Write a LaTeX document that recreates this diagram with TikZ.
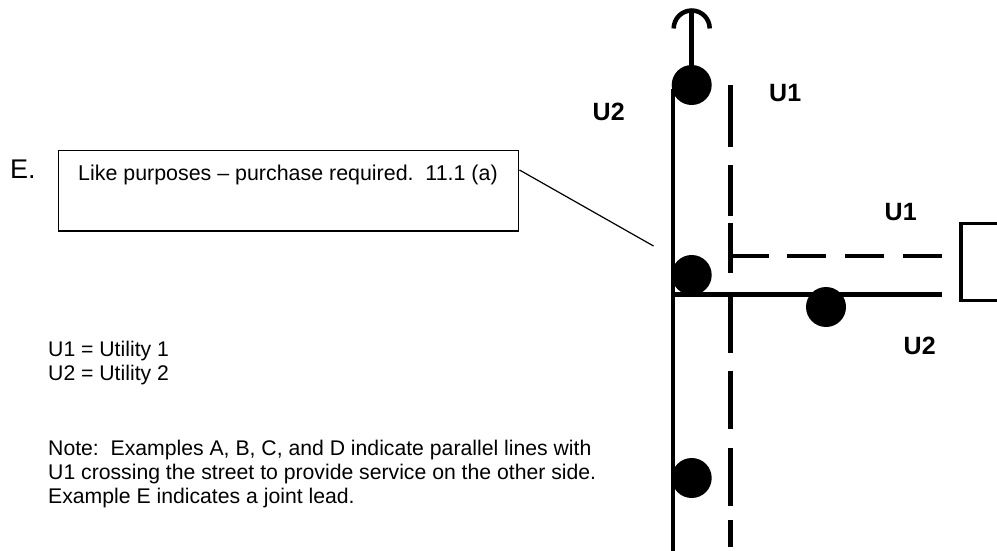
\documentclass[tikz,border=0pt]{standalone}
\usepackage{fontspec}
\setmainfont{Liberation Sans}
\tikzset{
  heavy/.style={line width=4.5pt,line cap=butt},
  dot/.style={circle,fill=black,draw=none,minimum size=40pt,inner sep=0pt},
  lbl/.style={inner sep=0pt,anchor=base west},
  utilbl/.style={lbl,font=\fontsize{25}{28}\selectfont\bfseries},
  txt/.style={lbl,font=\fontsize{21.2}{24}\selectfont},
}
\begin{document}
\begin{tikzpicture}[x=1pt,y=-1pt]
\useasboundingbox (0,0) rectangle (997,551);
% dashed U1
\coordinate (vdt) at (730.5,85);
\coordinate (vdb) at (730.5,547);
\coordinate (hds) at (733,256);
\coordinate (hde) at (942,256);
\draw[heavy,dash pattern=on 62pt off 18pt on 51pt off 7pt on 50pt off 21pt on 59pt off 18pt on 58pt off 19pt on 58pt off 14pt on 27pt] (vdt) -- (vdb);
\draw[heavy,dash pattern=on 36pt off 18pt on 39pt off 19pt on 39pt off 19pt on 39pt] (hds) -- (hde);
% solid U2
\coordinate (vst) at (673,89);
\coordinate (vsb) at (673,551);
\coordinate (hss) at (673,294.5);
\coordinate (hse) at (942,294.5);
\draw[line width=4pt] (vst) -- (vsb);
\draw[line width=5pt] (hss) -- (hse);
% dots
\node[dot] (d1) at (691.7,85) {};
\node[dot] (d2) at (691.7,275) {};
\node[dot] (d3) at (826,307) {};
\node[dot] (d4) at (691.7,478) {};
% pole
\coordinate (al) at (673.7,28.5);
\coordinate (atop) at (691.7,9);
\draw[heavy] (atop) -- (d1.center);
\draw[heavy] (al) arc[start angle=180,end angle=360,radius=18];
% house
\coordinate (hl) at (961,223.5);
\draw[line width=3.8pt] (1000,223.5) -- (hl) -- (961,300.5) -- (1000,300.5);
% callout
\node[draw,line width=1.3pt,minimum width=460.5pt,minimum height=80.5pt,inner sep=0pt,anchor=north west] (box) at (57.5,149.7) {};
\coordinate (co) at (653.5,246);
\coordinate (cs) at (519.5,170);
\draw[line width=1.2pt] (cs) -- (co);
\node[txt,font=\fontsize{21.4}{24}\selectfont] (t1) at (78,180.7) {Like purposes – purchase required.\ \ 11.1 (a)};
\node[lbl,font=\fontsize{27}{30}\selectfont] (e) at (10,178.3) {E.};
% labels
\node[utilbl] (u2a) at (592.5,120.7) {U2};
\node[utilbl] (u1a) at (769,102) {U1};
\node[utilbl] (u1b) at (884.5,220) {U1};
\node[utilbl] (u2b) at (903.5,354.7) {U2};
\node[txt] (k1) at (48,356.7) {U1 = Utility 1};
\node[txt] (k2) at (48,380.7) {U2 = Utility 2};
\node[txt] (n1) at (48,455) {Note:\ \ Examples A, B, C, and D indicate parallel lines with};
\node[txt] (n2) at (48,479) {U1 crossing the street to provide service on the other side.};
\node[txt] (n3) at (48,503) {Example E indicates a joint lead.};
\end{tikzpicture}
\end{document}
